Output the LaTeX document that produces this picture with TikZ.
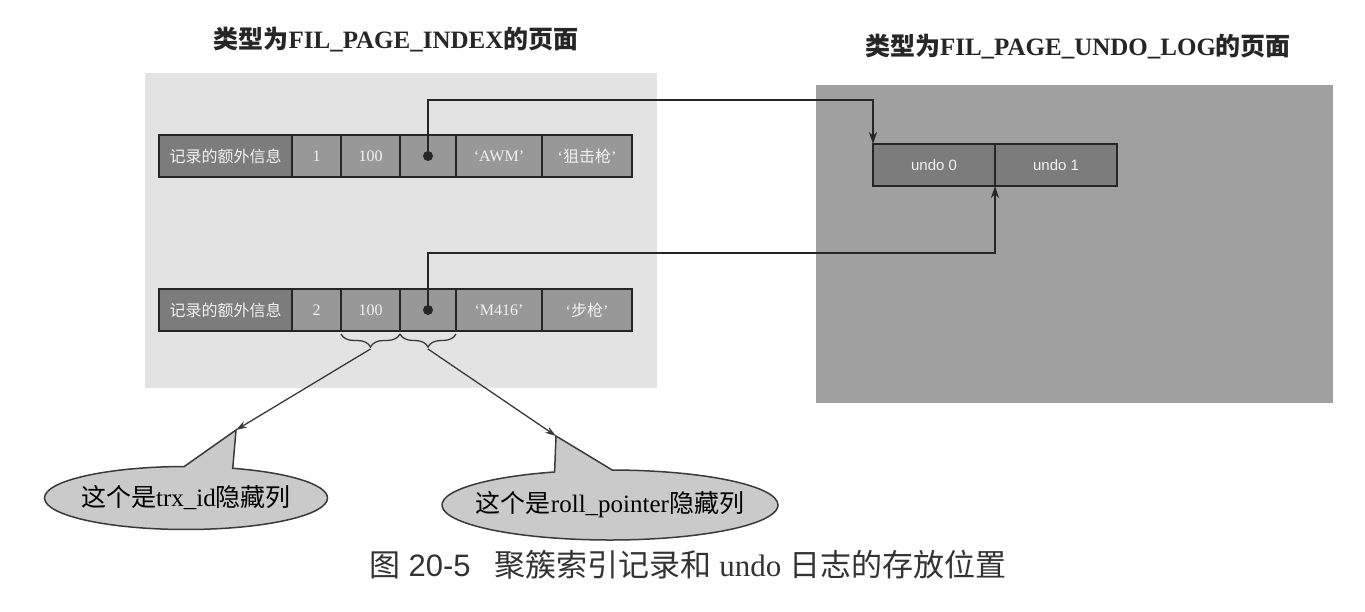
\documentclass[tikz,border=0pt]{standalone}
\usepackage{fontspec}
\setmainfont{Liberation Serif}
\setsansfont{Liberation Sans}
\newfontfamily\zhfont{Noto Sans CJK SC}
\newcommand{\zh}[1]{{\zhfont #1}}
\definecolor{PageLight}{HTML}{E3E3E3}
\definecolor{PageDark}{HTML}{A0A0A0}
\definecolor{CellDark}{HTML}{7C7C7C}
\definecolor{CellMid}{HTML}{989898}
\definecolor{LineGray}{HTML}{3A3A3A}
\definecolor{TipGray}{HTML}{CACACA}
\usetikzlibrary{shapes.callouts, arrows.meta, positioning, decorations.pathreplacing}
\tikzset{
  % Box styles
  fieldbox/.style={rectangle, draw=black!85, line width=2.2pt, fill=CellMid, text=white!95!black, minimum height=42pt, inner sep=0pt, outer sep=0pt, font=\fontsize{16}{18}\selectfont},
  headbox/.style={fieldbox, fill=CellDark},
  undobox/.style={fieldbox, fill=CellDark, minimum width=122pt, font=\sffamily\fontsize{15}{17}\selectfont},
  tipbubble/.style={ellipse callout, draw=LineGray, line width=1.5pt, fill=TipGray, inner xsep=-16pt, inner ysep=0pt, callout pointer arc=20, font=\fontsize{25}{28}\selectfont},
  pagetitle/.style={font=\bfseries\fontsize{25}{28}\selectfont, text=black!85},
  % Arrow styles
  ptrarrow/.style={-{Stealth[length=12pt,width=8pt]}, line width=1.6pt, black!85},
  tiparrow/.style={-{Stealth[length=11pt,width=7pt]}, line width=1.3pt, LineGray},
  fieldbrace/.style={decorate, decoration={brace, mirror, amplitude=13pt, raise=3pt}, line width=1.3pt, LineGray}
}

\begin{document}
\begin{tikzpicture}[x=1pt, y=-1pt, node distance=0pt]
  \useasboundingbox (0,0) rectangle (1365,612);
  \fill[white] (0,0) rectangle (1365,612);

  % Page backgrounds
  \fill[PageLight] (145,73) rectangle (657,388);
  \fill[PageDark] (816,85) rectangle (1333,403);

  % Page titles
  \node[pagetitle] (indexTitle) at (396,40) {\zh{类型为}FIL\_PAGE\_INDEX\zh{的页面}};
  \node[pagetitle] (undoTitle) at (1078,47) {\zh{类型为}FIL\_PAGE\_UNDO\_LOG\zh{的页面}};

  % Clustered index records
  \foreach \row/\y/\gun/\kind in {1/156/AWM/狙击枪, 2/310/M416/步枪} {
    \node[headbox, minimum width=133pt, anchor=west] (r\row a) at (159,\y) {\zh{记录的额外信息}};
    \node[fieldbox, minimum width=49pt, right=of r\row a] (r\row b) {\row};
    \node[fieldbox, minimum width=59pt, right=of r\row b] (r\row c) {100};
    \node[fieldbox, minimum width=56pt, right=of r\row c] (r\row d) {};
    \node[fieldbox, minimum width=86pt, right=of r\row d] (r\row e) {`\gun'};
    \node[fieldbox, minimum width=90pt, right=of r\row e] (r\row f) {`\zh{\kind}'};
    \fill[black!85] (r\row d.center) circle (5);
  }

  % Undo log entries
  \node[undobox, anchor=west] (u0) at (873,165) {undo 0};
  \node[undobox, right=of u0] (u1) {undo 1};

  % Roll pointers
  \draw[ptrarrow] (r1d.center) -- ++(0,-56) -| (u0.north west);
  \draw[ptrarrow] (r2d.center) -- ++(0,-57) -| (u0.south east);

  % Hidden columns
  \draw[fieldbrace] (r2c.south west) -- (r2c.south east);
  \draw[fieldbrace] (r2d.south west) -- (r2d.south east);
  \coordinate[below=18pt of r2c.south] (trxMid);
  \coordinate[below=18pt of r2d.south] (rollMid);
  \coordinate (trxTip) at (236,430);
  \coordinate (rollTip) at (556,436);

  \node[tipbubble, minimum width=283pt, minimum height=63pt, callout absolute pointer={(trxTip)}] (trxNote) at (186,498) {\zh{这个是}trx\_id\zh{隐藏列}};
  \node[tipbubble, minimum width=336pt, minimum height=70pt, callout absolute pointer={(rollTip)}] (rollNote) at (610,505) {\zh{这个是}roll\_pointer\zh{隐藏列}};
  \draw[tiparrow] (trxMid) -- (trxTip);
  \draw[tiparrow] (rollMid) -- (rollTip);

  % Caption
  \node[font=\fontsize{31}{33}\selectfont, text=black!80] (caption) at (688,565) {\zh{图}~{\sffamily 20-5}\hspace{24pt}\zh{聚簇索引记录和} undo \zh{日志的存放位置}};
\end{tikzpicture}
\end{document}
